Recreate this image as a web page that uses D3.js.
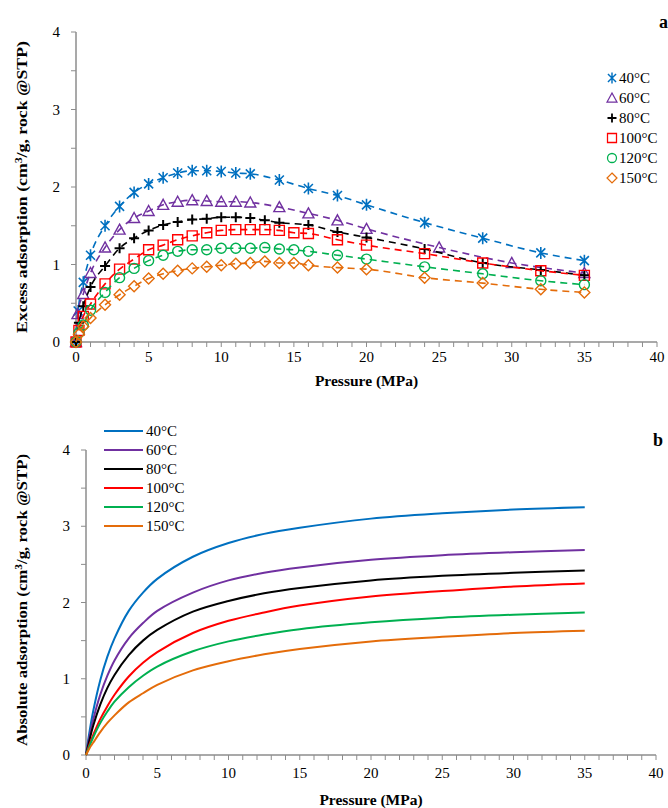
<!DOCTYPE html>
<html>
<head>
<meta charset="utf-8">
<script src="https://cdn.jsdelivr.net/npm/d3@7"></script>
<style>
  body { margin: 0; background: #fff; }
  svg { display: block; font-family: "Liberation Serif", "Times New Roman", serif; }
</style>
</head>
<body>
<svg id="chart" width="668" height="808"></svg>
<script>
// ---- data ----------------------------------------------------------
var temps = ["40°C", "60°C", "80°C", "100°C", "120°C", "150°C"];
var colors = ["#0070C0", "#7030A0", "#000000", "#FF0000", "#00B050", "#E46C0A"];

// (a) excess adsorption, measured points
var p40 = [0, 0.15, 0.5, 1, 2, 3, 4, 5, 6, 7, 8, 9, 10, 11, 12, 14, 16, 18, 20, 24, 28, 32, 35];
var v40 = [0, 0.40, 0.77, 1.12, 1.50, 1.75, 1.93, 2.04, 2.12, 2.18, 2.21, 2.21, 2.20, 2.18, 2.17, 2.09, 1.98, 1.89, 1.77, 1.54, 1.34, 1.15, 1.05];
var p60 = [0, 0.1, 0.5, 1, 2, 3, 4, 5, 6, 7, 8, 9, 10, 11, 12, 14, 16, 18, 20, 25, 30, 35];
var v60 = [0, 0.36, 0.62, 0.89, 1.22, 1.45, 1.60, 1.69, 1.77, 1.81, 1.83, 1.82, 1.81, 1.81, 1.80, 1.74, 1.66, 1.57, 1.46, 1.22, 1.02, 0.89];
var p80 = [0, 0.2, 0.5, 1, 2, 3, 4, 5, 6, 7, 8, 9, 10, 11, 12, 13, 14, 16, 18, 20, 24, 28, 32, 35];
var v80 = [0, 0.25, 0.46, 0.71, 0.98, 1.21, 1.34, 1.44, 1.51, 1.55, 1.58, 1.59, 1.61, 1.61, 1.60, 1.57, 1.54, 1.51, 1.42, 1.35, 1.20, 1.02, 0.93, 0.86];
var p100 = [0, 0.2, 0.5, 1, 2, 3, 4, 5, 6, 7, 8, 9, 10, 11, 12, 13, 14, 15, 16, 18, 20, 24, 28, 32, 35];
var v100 = [0, 0.15, 0.33, 0.49, 0.75, 0.94, 1.07, 1.19, 1.25, 1.32, 1.37, 1.41, 1.44, 1.45, 1.45, 1.45, 1.44, 1.41, 1.40, 1.32, 1.25, 1.14, 1.02, 0.92, 0.86];
var p120 = [0, 0.2, 0.5, 1, 2, 3, 4, 5, 6, 7, 8, 9, 10, 11, 12, 13, 14, 15, 16, 18, 20, 24, 28, 32, 35];
var v120 = [0, 0.12, 0.22, 0.41, 0.64, 0.83, 0.95, 1.05, 1.12, 1.17, 1.19, 1.19, 1.21, 1.21, 1.21, 1.22, 1.20, 1.19, 1.17, 1.12, 1.07, 0.97, 0.88, 0.79, 0.74];
var p150 = [0, 0.2, 0.5, 1, 2, 3, 4, 5, 6, 7, 8, 9, 10, 11, 12, 13, 14, 15, 16, 18, 20, 24, 28, 32, 35];
var v150 = [0, 0.10, 0.20, 0.31, 0.48, 0.61, 0.72, 0.82, 0.88, 0.92, 0.95, 0.97, 0.99, 1.01, 1.02, 1.04, 1.02, 1.02, 0.99, 0.96, 0.94, 0.83, 0.76, 0.68, 0.64];

// (b) absolute adsorption
var pAbs = [0, 0.25, 0.5, 1, 1.5, 2, 3, 4, 5, 7.5, 10, 12.5, 15, 20, 25, 30, 35];
var a40 = [0, 0.31, 0.57, 0.98, 1.29, 1.53, 1.89, 2.13, 2.31, 2.60, 2.78, 2.90, 2.98, 3.10, 3.17, 3.22, 3.25];
var a60 = [0, 0.25, 0.46, 0.79, 1.04, 1.24, 1.53, 1.73, 1.89, 2.13, 2.29, 2.39, 2.46, 2.56, 2.62, 2.66, 2.69];
var a80 = [0, 0.20, 0.38, 0.66, 0.88, 1.05, 1.31, 1.50, 1.64, 1.88, 2.02, 2.12, 2.19, 2.29, 2.35, 2.39, 2.42];
var a100 = [0, 0.14, 0.26, 0.47, 0.64, 0.79, 1.03, 1.21, 1.35, 1.60, 1.76, 1.87, 1.96, 2.08, 2.15, 2.21, 2.25];
var a120 = [0, 0.12, 0.23, 0.42, 0.57, 0.70, 0.89, 1.04, 1.16, 1.36, 1.49, 1.58, 1.65, 1.74, 1.80, 1.84, 1.87];
var a150 = [0, 0.09, 0.16, 0.30, 0.42, 0.52, 0.69, 0.81, 0.92, 1.11, 1.23, 1.32, 1.39, 1.49, 1.55, 1.60, 1.63];

var xTicks = [0, 5, 10, 15, 20, 25, 30, 35, 40];
var yTicks = [0, 1, 2, 3, 4];

var excess = [[p40, v40], [p60, v60], [p80, v80], [p100, v100], [p120, v120], [p150, v150]];
var absolute = [a40, a60, a80, a100, a120, a150];

var svg = d3.select("#chart");
var axisColor = "#8c8c8c";

// marker paths, centred on 0,0
var markerPaths = [
  "M-4.5,-4.5L4.5,4.5M-4.5,4.5L4.5,-4.5M0,-6L0,6",
  "M0,-5.5L5.5,4.5L-5.5,4.5Z",
  "M-5,0L5,0M0,-5L0,5",
  "M-5,-5H5V5H-5Z",
  "M5,0A5,5 0 1,1 -5,0A5,5 0 1,1 5,0Z",
  "M0,-5.5L5.5,0L0,5.5L-5.5,0Z"
];
var markerWidths = [1.6, 1.4, 2, 1.4, 1.4, 1.4];

function drawAxes(x, y, labelGap, titleGap) {
  var x0 = x.range()[0], x1 = x.range()[1];
  var y0 = y.range()[0], y1 = y.range()[1];
  var g = svg.append("g");
  // minor ticks
  g.selectAll(".xm").data(d3.range(0, 41, 1)).enter().append("line")
    .attr("x1", function (d) { return x(d); }).attr("x2", function (d) { return x(d); })
    .attr("y1", y0).attr("y2", y0 + 5)
    .attr("stroke", axisColor).attr("stroke-width", 1);
  g.selectAll(".ym").data(d3.range(0, 4.01, 0.5)).enter().append("line")
    .attr("y1", function (d) { return y(d); }).attr("y2", function (d) { return y(d); })
    .attr("x1", x0 - 5).attr("x2", x0)
    .attr("stroke", axisColor).attr("stroke-width", 1);
  g.append("line").attr("x1", x0).attr("x2", x1).attr("y1", y0).attr("y2", y0)
    .attr("stroke", axisColor).attr("stroke-width", 1.5);
  g.append("line").attr("x1", x0).attr("x2", x0).attr("y1", y0).attr("y2", y1)
    .attr("stroke", axisColor).attr("stroke-width", 1.5);
  g.selectAll(".xl").data(xTicks).enter().append("text")
    .attr("x", function (d) { return x(d); }).attr("y", y0 + labelGap)
    .attr("text-anchor", "middle").attr("font-size", 15).text(function (d) { return d; });
  g.selectAll(".yl").data(yTicks).enter().append("text")
    .attr("x", x0 - 16).attr("y", function (d) { return y(d) + 5; })
    .attr("text-anchor", "end").attr("font-size", 15).text(function (d) { return d; });
  g.append("text").attr("x", (x0 + x1) / 2).attr("y", y0 + titleGap)
    .attr("text-anchor", "middle").attr("font-size", 15.5).attr("font-weight", "bold")
    .text("Pressure (MPa)");
}

function yTitle(cy, label) {
  svg.append("text")
    .attr("transform", "translate(27," + cy + ") rotate(-90)")
    .attr("text-anchor", "middle").attr("font-size", 15).attr("font-weight", "bold")
    .attr("textLength", 292).attr("lengthAdjust", "spacingAndGlyphs")
    .html(label + " (cm<tspan baseline-shift='super' font-size='10'>3</tspan><tspan baseline-shift='0'>/g, rock @STP)</tspan>");
}

// ---- (a) excess adsorption ----------------------------------------
var xA = d3.scaleLinear().domain([0, 40]).range([76, 657]);
var yA = d3.scaleLinear().domain([0, 4]).range([342, 32]);

drawAxes(xA, yA, 20, 44);
yTitle(187, "Excess adsorption");

var lineA = d3.line()
  .x(function (d) { return xA(d[0]); })
  .y(function (d) { return yA(d[1]); })
  .curve(d3.curveMonotoneX);

excess.forEach(function (s, i) {
  var pts = s[0].map(function (p, k) { return [p, s[1][k]]; });
  var g = svg.append("g");
  g.append("path").datum(pts).attr("d", lineA)
    .attr("fill", "none").attr("stroke", colors[i]).attr("stroke-width", 1.6)
    .attr("stroke-dasharray", "7,5");
  g.selectAll("path.m").data(pts).enter().append("path")
    .attr("class", "m")
    .attr("transform", function (d) { return "translate(" + xA(d[0]) + "," + yA(d[1]) + ")"; })
    .attr("d", markerPaths[i])
    .attr("fill", "none").attr("stroke", colors[i]).attr("stroke-width", markerWidths[i]);
});

// legend (a)
var legA = svg.append("g");
temps.forEach(function (t, i) {
  var yy = 78 + i * 20;
  legA.append("path").attr("transform", "translate(612," + yy + ") scale(0.9)")
    .attr("d", markerPaths[i]).attr("fill", "none")
    .attr("stroke", colors[i]).attr("stroke-width", markerWidths[i]);
  legA.append("text").attr("x", 619).attr("y", yy + 5).attr("font-size", 15).text(t);
});
svg.append("text").attr("x", 659).attr("y", 28).attr("font-size", 18)
  .attr("font-weight", "bold").text("a");

// ---- (b) absolute adsorption --------------------------------------
var xB = d3.scaleLinear().domain([0, 40]).range([86, 656]);
var yB = d3.scaleLinear().domain([0, 4]).range([755, 450]);

drawAxes(xB, yB, 23, 50);
yTitle(600, "Absolute adsorption");

var lineB = d3.line()
  .x(function (d) { return xB(d[0]); })
  .y(function (d) { return yB(d[1]); })
  .curve(d3.curveCatmullRom.alpha(0.5));

absolute.forEach(function (vals, i) {
  var pts = pAbs.map(function (p, k) { return [p, vals[k]]; });
  svg.append("path").datum(pts).attr("d", lineB)
    .attr("fill", "none").attr("stroke", colors[i]).attr("stroke-width", 2);
});

var legB = svg.append("g");
temps.forEach(function (t, i) {
  var yy = 431 + i * 19;
  legB.append("line").attr("x1", 104).attr("x2", 143).attr("y1", yy).attr("y2", yy)
    .attr("stroke", colors[i]).attr("stroke-width", 2);
  legB.append("text").attr("x", 146).attr("y", yy + 5).attr("font-size", 15).text(t);
});
svg.append("text").attr("x", 653).attr("y", 446).attr("font-size", 18)
  .attr("font-weight", "bold").text("b");
</script>
</body>
</html>
